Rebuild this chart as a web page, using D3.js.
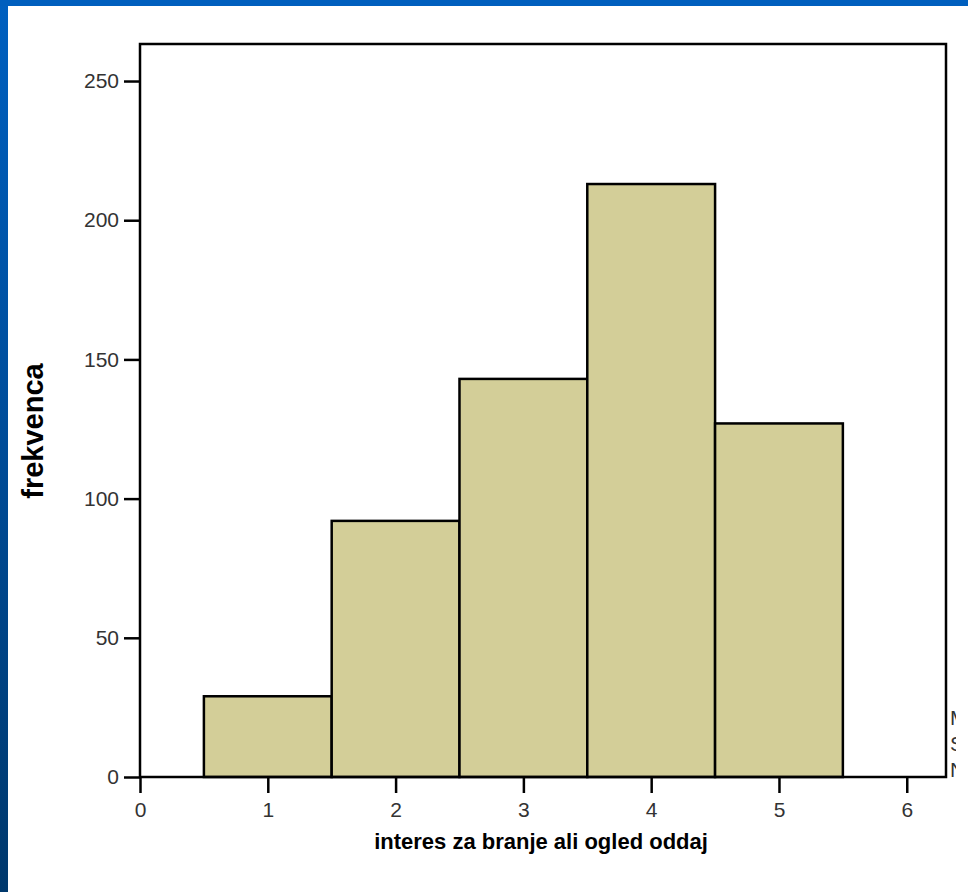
<!DOCTYPE html>
<html>
<head>
<meta charset="utf-8">
<script src="https://cdn.jsdelivr.net/npm/d3@7"></script>
<style>
  html, body { margin: 0; padding: 0; background: #fff; }
  svg { display: block; }
  text { font-family: "Liberation Sans", Arial, sans-serif; }
</style>
</head>
<body>
<script>
// ---- data ----
const categories = [1, 2, 3, 4, 5];
const frequencies = [29, 92, 143, 213, 127];
const xTicks = [0, 1, 2, 3, 4, 5, 6];
const yTicks = [0, 50, 100, 150, 200, 250];
const xTitle = "interes za branje ali ogled oddaj";
const yTitle = "frekvenca";
const legendLines = ["Mean = 3.5", "Std. Dev = 1.12", "N = 604.00"];

(function () {
const W = 968, H = 892;
const svg = d3.select("body").append("svg").attr("width", W).attr("height", H);

// slide frame (blue bands)
const defs = svg.append("defs");
const grad = defs.append("linearGradient").attr("id", "sideGrad")
  .attr("x1", 0).attr("y1", 0).attr("x2", 0).attr("y2", 1);
grad.append("stop").attr("offset", "0%").attr("stop-color", "#0060c0");
grad.append("stop").attr("offset", "50%").attr("stop-color", "#004c98");
grad.append("stop").attr("offset", "100%").attr("stop-color", "#00386c");
defs.append("clipPath").attr("id", "legendClip")
  .append("rect").attr("x", 949).attr("y", 690).attr("width", 7).attr("height", 100);
svg.append("rect").attr("x", 0).attr("y", 0).attr("width", 8).attr("height", H).attr("fill", "url(#sideGrad)");
svg.append("rect").attr("x", 0).attr("y", 0).attr("width", W).attr("height", 6).attr("fill", "#005fbe");

// scales
const pLeft = 140, pRight = 946, pTop = 44, pBottom = 777;
const x = d3.scaleLinear().domain([0, 6.307]).range([pLeft, pRight]);
const y = d3.scaleLinear().domain([0, 263.3]).range([pBottom, pTop]);

// bars
svg.append("g").selectAll("rect").data(categories).join("rect")
  .attr("x", d => x(d - 0.5))
  .attr("width", d => x(d + 0.5) - x(d - 0.5))
  .attr("y", (d, i) => y(frequencies[i]))
  .attr("height", (d, i) => y(0) - y(frequencies[i]))
  .attr("fill", "#d3ce98")
  .attr("stroke", "#000")
  .attr("stroke-width", 2.5);

// frame
svg.append("rect")
  .attr("x", pLeft).attr("y", pTop)
  .attr("width", pRight - pLeft).attr("height", pBottom - pTop)
  .attr("fill", "none").attr("stroke", "#000").attr("stroke-width", 2.5);

// axes
const yAxis = svg.append("g").attr("transform", `translate(${pLeft},0)`)
  .call(d3.axisLeft(y).tickValues(yTicks).tickFormat(d3.format("d")).tickSize(16).tickPadding(5));
const xAxis = svg.append("g").attr("transform", `translate(0,${pBottom})`)
  .call(d3.axisBottom(x).tickValues(xTicks).tickFormat(d3.format("d")).tickSize(16).tickPadding(9));
[yAxis, xAxis].forEach(g => {
  g.select(".domain").remove();
  g.selectAll(".tick line").attr("stroke", "#000").attr("stroke-width", 2.5);
  g.selectAll(".tick text").attr("fill", "#333")
    .style("font-family", "'Liberation Sans', Arial, sans-serif")
    .style("font-size", "21px");
});

// titles
svg.append("text")
  .attr("x", (pLeft + pRight) / 2 - 2).attr("y", 849)
  .attr("text-anchor", "middle")
  .style("font-size", "22px").style("font-weight", "bold")
  .attr("fill", "#000")
  .text(xTitle);

svg.append("text")
  .attr("transform", `translate(43,431) rotate(-90)`)
  .attr("text-anchor", "middle")
  .style("font-size", "29px").style("font-weight", "bold")
  .attr("fill", "#000")
  .text(yTitle);

// legend cut off at the right edge (only its left edge shows, as in the reference)
svg.append("g").attr("clip-path", "url(#legendClip)")
  .selectAll("text").data(legendLines).join("text")
  .attr("x", 950)
  .attr("y", (d, i) => 725 + i * 26)
  .style("font-size", "21px")
  .attr("fill", "#333")
  .text(d => d);
})();
</script>
</body>
</html>
